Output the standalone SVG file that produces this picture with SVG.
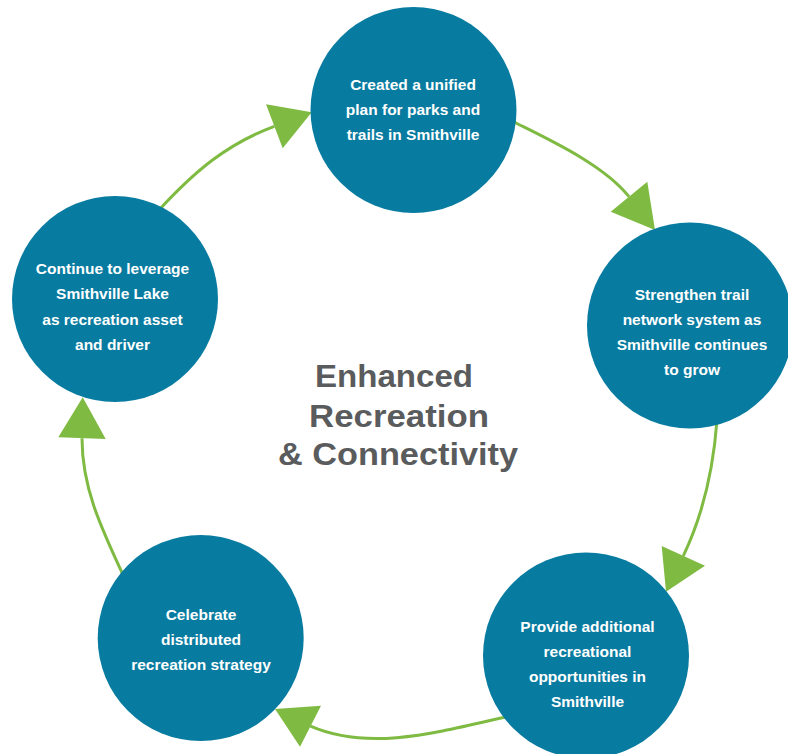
<svg xmlns="http://www.w3.org/2000/svg" width="788" height="754" viewBox="0 0 788 754">
<style>
.bg{fill:#ffffff}
.node{fill:#087ba0}
.nt{font-family:"Liberation Sans",Arial,sans-serif;font-weight:700;font-size:15.5px;fill:#ffffff;text-anchor:middle}
.title{font-family:"Liberation Sans",Arial,sans-serif;font-weight:700;font-size:31px;fill:#5a5b5d;text-anchor:middle}
.link{fill:none;stroke:#7fbb42;stroke-width:3}
.head{fill:#7fbb42}
</style>
<rect class="bg" x="0" y="0" width="788" height="754"/>
<g id="connectors">
<path class="link" d="M514,122 C549.8,139.9 604.4,165.2 629,196.7"/>
<polygon class="head" points="655,230 610.7,211.7 647.3,181.7"/>
<path class="link" d="M717,420 C713.4,469 702.8,515.3 683.3,555.8"/>
<polygon class="head" points="666,591.7 661.7,546 705,565.7"/>
<path class="link" d="M510,716 C441.6,731.3 370.5,752.3 310.5,726.2"/>
<polygon class="head" points="275,709 321,705.7 300,746.7"/>
<path class="link" d="M124,577 C101.2,527.8 82,488 82,438.2"/>
<polygon class="head" points="82.7,397.3 58.3,437.3 105.7,439"/>
<path class="link" d="M159,210 C195.7,170.2 227.5,143.8 274.3,126.3"/>
<polygon class="head" points="311.7,112.3 266,104.3 282.7,148.3"/>
</g>
<g id="node-top">
<circle class="node" cx="413.5" cy="110" r="103"/>
<text class="nt" x="413" y="90">Created a unified</text>
<text class="nt" x="413" y="115">plan for parks and</text>
<text class="nt" x="413" y="140">trails in Smithville</text>
</g>
<g id="node-right">
<circle class="node" cx="690" cy="325.5" r="103"/>
<text class="nt" x="692" y="300">Strengthen trail</text>
<text class="nt" x="692" y="325">network system as</text>
<text class="nt" x="692" y="350">Smithville continues</text>
<text class="nt" x="692" y="375">to grow</text>
</g>
<g id="node-bottom-right">
<circle class="node" cx="586" cy="655.5" r="103"/>
<text class="nt" x="587.5" y="631.7">Provide additional</text>
<text class="nt" x="587.5" y="656.7">recreational</text>
<text class="nt" x="587.5" y="681.7">opportunities in</text>
<text class="nt" x="587.5" y="706.7">Smithville</text>
</g>
<g id="node-bottom-left">
<circle class="node" cx="200.7" cy="638" r="103"/>
<text class="nt" x="201" y="620">Celebrate</text>
<text class="nt" x="201" y="645">distributed</text>
<text class="nt" x="201" y="670">recreation strategy</text>
</g>
<g id="node-left">
<circle class="node" cx="115" cy="299" r="103"/>
<text class="nt" x="112.5" y="273.5">Continue to leverage</text>
<text class="nt" x="112.5" y="299">Smithville Lake</text>
<text class="nt" x="112.5" y="324.5">as recreation asset</text>
<text class="nt" x="112.5" y="349.5">and driver</text>
</g>
<g id="center-title">
<text class="title" x="394" y="386.7" textLength="158" lengthAdjust="spacingAndGlyphs">Enhanced</text>
<text class="title" x="399" y="426.7" textLength="180" lengthAdjust="spacingAndGlyphs">Recreation</text>
<text class="title" x="398" y="465" textLength="240" lengthAdjust="spacingAndGlyphs">&amp; Connectivity</text>
</g>
</svg>
